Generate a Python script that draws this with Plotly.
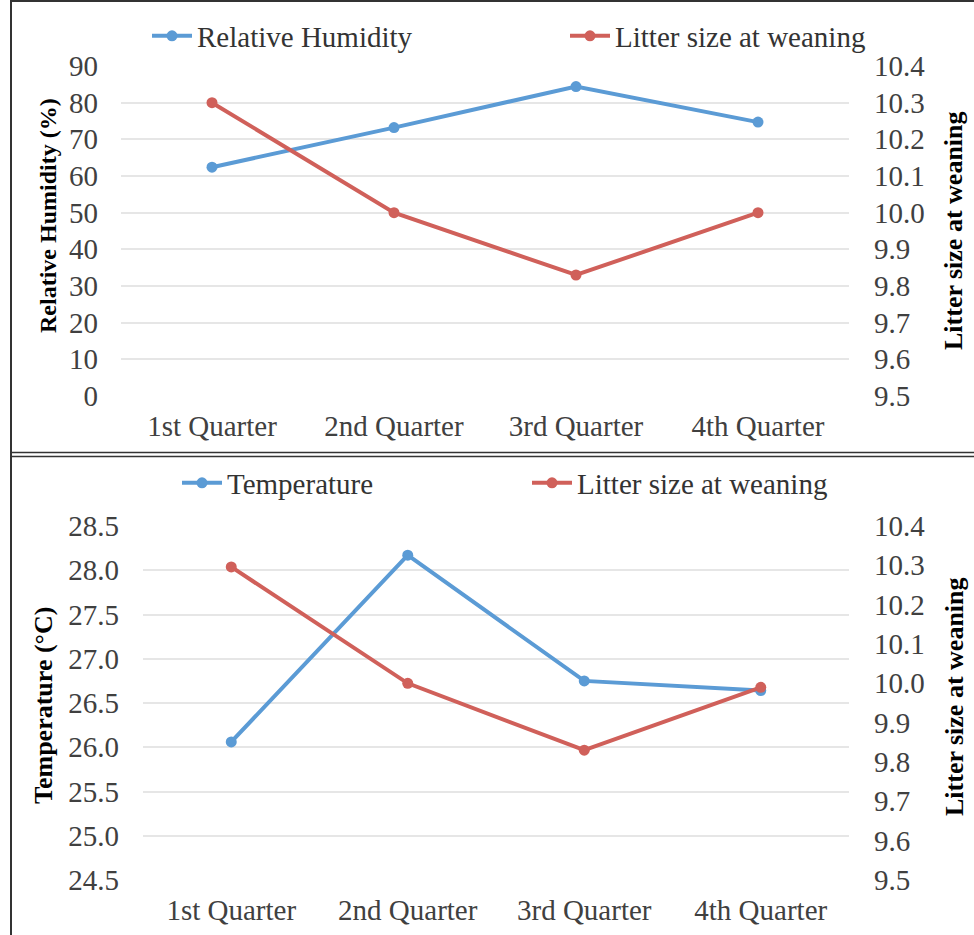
import plotly.graph_objects as go

quarters = ["1st Quarter", "2nd Quarter", "3rd Quarter", "4th Quarter"]
humidity = [62.4, 73.2, 84.4, 74.7]
litter_top = [10.30, 10.00, 9.83, 10.00]
temperature = [26.06, 28.17, 26.75, 26.64]
litter_bottom = [10.296, 10.00, 9.83, 9.99]

W, H = 974, 935
BLUE = "#5B9BD5"
RED = "#D0605A"
FONT = "Liberation Serif, Times New Roman, serif"
TICKC = "#404040"

def px(x):
    return x / W

def py(y):
    return 1 - y / H

fig = go.Figure()
line_w = 4
msize = 11

fig.add_trace(go.Scatter(x=quarters, y=humidity, name="Relative Humidity", mode="lines+markers",
                         line=dict(color=BLUE, width=line_w), marker=dict(size=msize, color=BLUE),
                         xaxis="x", yaxis="y", legend="legend"))
fig.add_trace(go.Scatter(x=quarters, y=litter_top, name="Litter size at weaning", mode="lines+markers",
                         line=dict(color=RED, width=line_w), marker=dict(size=msize, color=RED),
                         xaxis="x", yaxis="y2", legend="legend2"))
fig.add_trace(go.Scatter(x=quarters, y=temperature, name="Temperature", mode="lines+markers",
                         line=dict(color=BLUE, width=line_w), marker=dict(size=msize, color=BLUE),
                         xaxis="x2", yaxis="y3", legend="legend3"))
fig.add_trace(go.Scatter(x=quarters, y=litter_bottom, name="Litter size at weaning", mode="lines+markers",
                         line=dict(color=RED, width=line_w), marker=dict(size=msize, color=RED),
                         xaxis="x2", yaxis="y4", legend="legend4"))

tickfont = dict(family=FONT, size=29, color=TICKC)
grid = dict(showgrid=True, gridcolor="#E6E6E6", gridwidth=2, zeroline=False, showline=False)

top_x = [px(121), px(849)]
top_y = [py(396), py(66)]
bot_x = [px(143), px(849)]
bot_y = [py(880), py(526)]

def legend_cfg(x, y):
    return dict(x=x, y=y, xanchor="left", yanchor="middle", orientation="h",
                font=dict(family=FONT, size=29, color="#333333"), bgcolor="rgba(0,0,0,0)",
                itemwidth=40)

fig.update_layout(
    template=None,
    font=dict(family=FONT),
    width=W, height=H, autosize=False,
    margin=dict(l=0, r=0, t=0, b=0, pad=0),
    paper_bgcolor="white", plot_bgcolor="white",
    xaxis=dict(domain=top_x, anchor="y", type="category", range=[-0.5, 3.5], showgrid=False,
               zeroline=False, showline=False, tickfont=tickfont, ticklabelstandoff=10,
               automargin=False, ticks=""),
    yaxis=dict(domain=top_y, anchor="x", range=[0, 90], dtick=10, tick0=0, tickfont=tickfont,
               ticklabelstandoff=22, automargin=False, ticks="", **grid),
    yaxis2=dict(overlaying="y", side="right", anchor="x", range=[9.5, 10.4], dtick=0.1, tick0=9.5,
                tickformat=".1f", showgrid=False, zeroline=False, showline=False,
                tickfont=tickfont, ticklabelstandoff=24, automargin=False, ticks=""),
    xaxis2=dict(domain=bot_x, anchor="y3", type="category", range=[-0.5, 3.5], showgrid=False,
                zeroline=False, showline=False, tickfont=tickfont, ticklabelstandoff=10,
                automargin=False, ticks=""),
    yaxis3=dict(domain=bot_y, anchor="x2", range=[24.5, 28.5], dtick=0.5, tick0=24.5,
                tickformat=".1f", tickfont=tickfont, ticklabelstandoff=23, automargin=False,
                ticks="", **grid),
    yaxis4=dict(overlaying="y3", side="right", anchor="x2", range=[9.5, 10.4], dtick=0.1, tick0=9.5,
                tickformat=".1f", showgrid=False, zeroline=False, showline=False,
                tickfont=tickfont, ticklabelstandoff=24, automargin=False, ticks=""),
    legend=legend_cfg(px(147), py(36)),
    legend2=legend_cfg(px(565), py(36)),
    legend3=legend_cfg(px(177), py(483)),
    legend4=legend_cfg(px(527), py(483)),
    showlegend=True,
)

annos = [
    ("Relative Humidity (%)", 48, 216, 24),
    ("Litter size at weaning", 953, 231, 26),
    ("Temperature (°C)", 43, 706, 26),
    ("Litter size at weaning", 954, 697, 26),
]
for text, x, y, size in annos:
    fig.add_annotation(text="<b>" + text + "</b>", x=px(x), y=py(y), xref="paper", yref="paper",
                       showarrow=False, textangle=-90,
                       font=dict(family=FONT, size=size, color="#000000"),
                       xanchor="center", yanchor="middle")

border = dict(color="#333333", width=2)
fig.add_shape(type="line", xref="paper", yref="paper", x0=px(11), x1=px(11), y0=0, y1=1, line=border)
fig.add_shape(type="line", xref="paper", yref="paper", x0=px(11), x1=1, y0=py(1), y1=py(1), line=border)
fig.add_shape(type="line", xref="paper", yref="paper", x0=px(11), x1=1, y0=py(452.5), y1=py(452.5),
              line=dict(color="#333333", width=1.5))
fig.add_shape(type="line", xref="paper", yref="paper", x0=px(11), x1=1, y0=py(456.5), y1=py(456.5),
              line=dict(color="#333333", width=1.5))

fig.write_html("out.html", config={"responsive": False, "displayModeBar": False},
               post_script="document.body.style.margin='0';document.body.style.padding='0';")
